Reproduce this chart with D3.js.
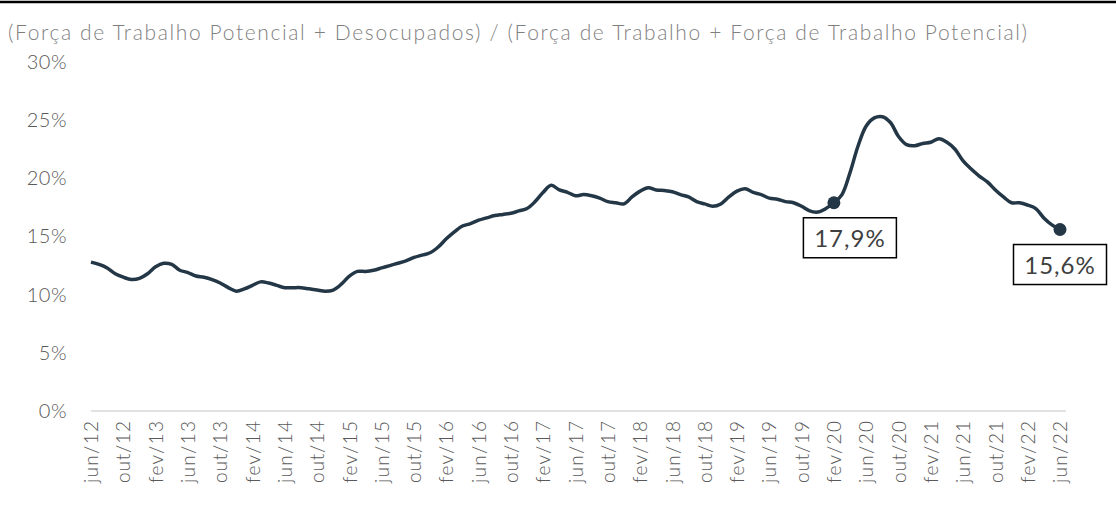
<!DOCTYPE html>
<html>
<head>
<meta charset="utf-8">
<script src="https://cdn.jsdelivr.net/npm/d3@7"></script>
<style>
  body { margin: 0; background: #fff; }
  text { font-family: Lato, "Open Sans", sans-serif; }
</style>
</head>
<body>
<div id="chart-area"></div>
<script>
var width = 1116, height = 506;

// monthly values, jun/12 .. jun/22 (%)
var months = ["jan","fev","mar","abr","mai","jun","jul","ago","set","out","nov","dez"];
var values = [
  12.8, 12.6, 12.3, 11.8, 11.5, 11.3, 11.4, 11.8, 12.4, 12.7,
  12.6, 12.1, 11.9, 11.6, 11.5, 11.3, 11.0, 10.6, 10.3, 10.5,
  10.8, 11.1, 11.0, 10.8, 10.6, 10.6, 10.6, 10.5, 10.4, 10.3,
  10.4, 10.9, 11.6, 12.0, 12.0, 12.1, 12.3, 12.5, 12.7, 12.9,
  13.2, 13.4, 13.6, 14.1, 14.8, 15.4, 15.9, 16.1, 16.4, 16.6,
  16.8, 16.9, 17.0, 17.2, 17.4, 18.0, 18.8, 19.4, 19.0, 18.8,
  18.5, 18.6, 18.5, 18.3, 18.0, 17.9, 17.8, 18.4, 18.9, 19.2,
  19.0, 18.95, 18.85, 18.6, 18.4, 18.0, 17.8, 17.6, 17.8, 18.4,
  18.9, 19.1, 18.8, 18.6, 18.3, 18.2, 18.0, 17.9, 17.6, 17.2,
  17.1, 17.4, 17.9, 18.6, 20.5, 22.8, 24.5, 25.2, 25.3, 24.8,
  23.6, 22.9, 22.8, 23.0, 23.1, 23.4, 23.1, 22.5, 21.5, 20.8,
  20.2, 19.7, 19.0, 18.4, 17.9, 17.9, 17.7, 17.4, 16.6, 16.0,
  15.6
];
var yTicks = [0, 5, 10, 15, 20, 25, 30];
var highlights = [{ label: "17,9%", idx: 92 }, { label: "15,6%", idx: 120 }];
var title = "(Força de Trabalho Potencial + Desocupados) / (Força de Trabalho + Força de Trabalho Potencial)";

// category labels like jun/12
var labels = values.map(function(v, i) {
  var m = 5 + i;
  return months[m % 12] + "/" + String(12 + Math.floor(m / 12));
});
var data = values.map(function(v, i) { return { cat: labels[i], value: v }; });

var svg = d3.select("#chart-area").append("svg")
  .attr("width", width)
  .attr("height", height);

// top rule
svg.append("line")
  .attr("x1", 0).attr("x2", width)
  .attr("y1", 2).attr("y2", 2)
  .attr("stroke", "#000").attr("stroke-width", 2.5);

svg.append("text")
  .attr("x", 8).attr("y", 40)
  .attr("font-size", "21px")
  .attr("font-weight", 300)
  .attr("fill", "#7f7f7f")
  .attr("textLength", 1019)
  .attr("lengthAdjust", "spacing")
  .text(title);

var x = d3.scalePoint().domain(labels).range([91, 1060]);
var y = d3.scaleLinear().domain([0, 30]).range([411, 62]);

// baseline
svg.append("line")
  .attr("x1", 91).attr("x2", 1066)
  .attr("y1", y(0)).attr("y2", y(0))
  .attr("stroke", "#d9d9d9").attr("stroke-width", 1.5);

// y axis labels
var yAxis = d3.axisLeft(y).tickValues(yTicks)
  .tickFormat(function(d) { return d + "%"; })
  .tickSize(0).tickPadding(0);
var yg = svg.append("g").attr("transform", "translate(67,0)").call(yAxis);
yg.select(".domain").remove();
yg.selectAll("text")
  .attr("font-size", "20px")
  .attr("font-weight", 300)
  .attr("fill", "#595959")
  .attr("font-family", "Lato, sans-serif")
  .attr("letter-spacing", "0.5px");

// x axis labels every 4 months
var xAxis = d3.axisBottom(x)
  .tickValues(labels.filter(function(d, i) { return i % 4 === 0; }))
  .tickSize(0).tickPadding(0);
var xg = svg.append("g").attr("transform", "translate(0,421)").call(xAxis);
xg.select(".domain").remove();
xg.selectAll("text")
  .attr("font-size", "19px")
  .attr("font-weight", 300)
  .attr("fill", "#595959")
  .attr("font-family", "Lato, sans-serif")
  .attr("text-anchor", "end")
  .attr("dy", "0.35em")
  .attr("transform", "rotate(-90)")
  .attr("x", 0).attr("y", 0)
  .attr("textLength", 62)
  .attr("lengthAdjust", "spacing");

// line
var line = d3.line()
  .x(function(d) { return x(d.cat); })
  .y(function(d) { return y(d.value); })
  .curve(d3.curveCatmullRom.alpha(0.5));

svg.append("path")
  .datum(data)
  .attr("fill", "none")
  .attr("stroke", "#243746")
  .attr("stroke-width", 3.5)
  .attr("stroke-linejoin", "round")
  .attr("d", line);

// highlighted points + labels (box shifted right for the first, centred for the last)
highlights.forEach(function(h, k) {
  var cx = x(labels[h.idx]), cy = y(values[h.idx]);
  svg.append("circle")
    .attr("cx", cx).attr("cy", cy).attr("r", 6.5)
    .attr("fill", "#243746");
  var bw = 93, bh = 40;
  var bx = (k === 0 ? cx + 16 : cx) - bw / 2, by = cy + 15;
  svg.append("rect")
    .attr("x", bx).attr("y", by)
    .attr("width", bw).attr("height", bh)
    .attr("fill", "#fff").attr("stroke", "#000").attr("stroke-width", 1.5);
  svg.append("text")
    .attr("x", bx + bw / 2).attr("y", by + 29)
    .attr("text-anchor", "middle")
    .attr("font-size", "24px")
    .attr("fill", "#404040")
    .attr("letter-spacing", "1px")
    .text(h.label);
});
</script>
</body>
</html>
